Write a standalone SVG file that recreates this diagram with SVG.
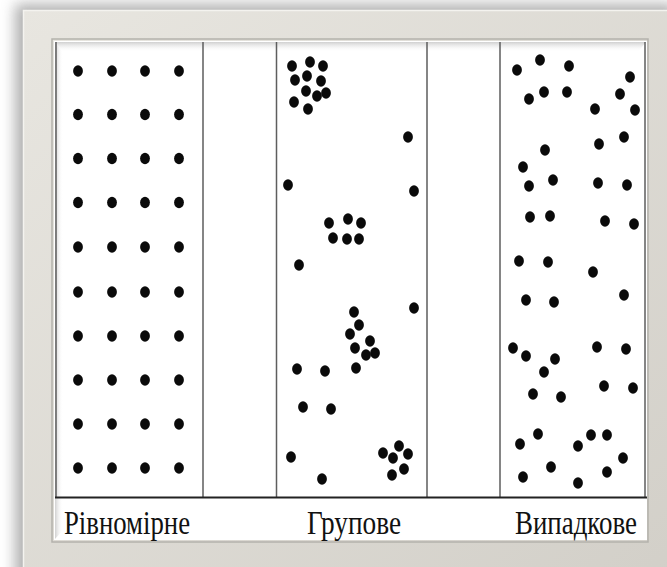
<svg xmlns="http://www.w3.org/2000/svg" xmlns:xlink="http://www.w3.org/1999/xlink" width="667" height="567" viewBox="0 0 667 567">
  <defs>
    <style>
      .col { fill: none; stroke: #5e5e5e; stroke-width: 1.5; }
      .base { stroke: #222; stroke-width: 2; }
      .lbl { font-family: "Liberation Serif", "DejaVu Serif", serif; font-size: 33px; fill: #111; }
    </style>
    <ellipse id="dot" cx="0" cy="0" rx="4.9" ry="5.8" fill="#0a0a0a"/>
    <linearGradient id="frameGrad" x1="0" y1="0" x2="1" y2="1">
      <stop offset="0" stop-color="#e8e6e0"/>
      <stop offset="1" stop-color="#d2cfc8"/>
    </linearGradient>
    <linearGradient id="topBevel" x1="0" y1="0" x2="0" y2="1">
      <stop offset="0" stop-color="#d0d0d0"/>
      <stop offset="1" stop-color="#ffffff" stop-opacity="0"/>
    </linearGradient>
    <linearGradient id="leftBevel" x1="0" y1="0" x2="1" y2="0">
      <stop offset="0" stop-color="#d0d0d0"/>
      <stop offset="1" stop-color="#ffffff" stop-opacity="0"/>
    </linearGradient>
    <filter id="shadow" x="-10%" y="-10%" width="130%" height="130%">
      <feGaussianBlur stdDeviation="7"/>
    </filter>
  </defs>

  <rect width="667" height="567" fill="#ffffff"/>

  <g id="frame">
    <rect x="15" y="4" width="660" height="580" fill="#8f8f8f" opacity="0.7" filter="url(#shadow)"/>
    <rect x="23" y="10" width="660" height="580" fill="url(#frameGrad)"/>
    <path d="M23.5 589 V10.5 H667" fill="none" stroke="#f4f3ef" stroke-width="1.5"/>
    <rect x="52" y="39" width="596" height="503" fill="none" stroke="#b4b2ac" stroke-width="1.5"/>
    <rect x="54" y="41" width="593" height="499" fill="#ffffff"/>
    <polygon points="55,42 646,42 638,52 63,52" fill="url(#topBevel)"/>
    <polygon points="55,42 63,52 63,530 55,539" fill="url(#leftBevel)"/>
  </g>

  <g id="column-uniform">
    <path class="col" d="M56 42 V497 M203 42 V497"/>
    <g id="dots-uniform">
      <use href="#dot" x="78" y="71"/><use href="#dot" x="112" y="71"/><use href="#dot" x="145" y="71"/><use href="#dot" x="179" y="71"/>
      <use href="#dot" x="78" y="114.5"/><use href="#dot" x="112" y="114.5"/><use href="#dot" x="145" y="114.5"/><use href="#dot" x="179" y="114.5"/>
      <use href="#dot" x="78" y="158.5"/><use href="#dot" x="112" y="158.5"/><use href="#dot" x="145" y="158.5"/><use href="#dot" x="179" y="158.5"/>
      <use href="#dot" x="78" y="202.5"/><use href="#dot" x="112" y="202.5"/><use href="#dot" x="145" y="202.5"/><use href="#dot" x="179" y="202.5"/>
      <use href="#dot" x="78" y="247"/><use href="#dot" x="112" y="247"/><use href="#dot" x="145" y="247"/><use href="#dot" x="179" y="247"/>
      <use href="#dot" x="78" y="292"/><use href="#dot" x="112" y="292"/><use href="#dot" x="145" y="292"/><use href="#dot" x="179" y="292"/>
      <use href="#dot" x="78" y="336"/><use href="#dot" x="112" y="336"/><use href="#dot" x="145" y="336"/><use href="#dot" x="179" y="336"/>
      <use href="#dot" x="78" y="380"/><use href="#dot" x="112" y="380"/><use href="#dot" x="145" y="380"/><use href="#dot" x="179" y="380"/>
      <use href="#dot" x="78" y="424"/><use href="#dot" x="112" y="424"/><use href="#dot" x="145" y="424"/><use href="#dot" x="179" y="424"/>
      <use href="#dot" x="78" y="468"/><use href="#dot" x="112" y="468"/><use href="#dot" x="145" y="468"/><use href="#dot" x="179" y="468"/>
    </g>
  </g>

  <g id="column-group">
    <path class="col" d="M276.5 42 V497 M427 42 V497"/>
    <g id="dots-group">
      <use href="#dot" x="292" y="66"/><use href="#dot" x="310" y="62"/><use href="#dot" x="323" y="66"/>
      <use href="#dot" x="295" y="80"/><use href="#dot" x="307" y="76"/><use href="#dot" x="321" y="81"/>
      <use href="#dot" x="306" y="91"/><use href="#dot" x="317" y="96"/><use href="#dot" x="326" y="93"/>
      <use href="#dot" x="294" y="102"/><use href="#dot" x="308" y="109"/>
      <use href="#dot" x="408" y="137"/><use href="#dot" x="288" y="185"/><use href="#dot" x="414" y="191"/>
      <use href="#dot" x="329" y="223"/><use href="#dot" x="348" y="219"/><use href="#dot" x="361" y="223"/>
      <use href="#dot" x="333" y="238"/><use href="#dot" x="347" y="239"/><use href="#dot" x="359" y="239"/>
      <use href="#dot" x="299" y="265"/><use href="#dot" x="414" y="308"/>
      <use href="#dot" x="354" y="312"/><use href="#dot" x="359" y="325"/><use href="#dot" x="350" y="334"/>
      <use href="#dot" x="370" y="341"/><use href="#dot" x="355" y="348"/><use href="#dot" x="366" y="355"/>
      <use href="#dot" x="375" y="353"/><use href="#dot" x="356" y="368"/>
      <use href="#dot" x="297" y="369"/><use href="#dot" x="325" y="371"/>
      <use href="#dot" x="303" y="407"/><use href="#dot" x="331" y="409"/>
      <use href="#dot" x="291" y="457"/><use href="#dot" x="322" y="479"/>
      <use href="#dot" x="383" y="453"/><use href="#dot" x="399" y="446"/><use href="#dot" x="408" y="454"/>
      <use href="#dot" x="393" y="458"/><use href="#dot" x="404" y="469"/><use href="#dot" x="392" y="475"/>
    </g>
  </g>

  <g id="column-random">
    <path class="col" d="M500 42 V497 M645 42 V497"/>
    <g id="dots-random">
      <use href="#dot" x="517" y="70"/><use href="#dot" x="540" y="60"/><use href="#dot" x="569" y="66"/><use href="#dot" x="630" y="77"/>
      <use href="#dot" x="529" y="99"/><use href="#dot" x="544" y="92"/><use href="#dot" x="567" y="92"/><use href="#dot" x="620" y="94"/>
      <use href="#dot" x="595" y="109"/><use href="#dot" x="635" y="110"/>
      <use href="#dot" x="624" y="137"/><use href="#dot" x="599" y="144"/><use href="#dot" x="545" y="150"/>
      <use href="#dot" x="523" y="167"/><use href="#dot" x="553" y="180"/><use href="#dot" x="529" y="186"/>
      <use href="#dot" x="598" y="183"/><use href="#dot" x="627" y="185"/>
      <use href="#dot" x="530" y="217"/><use href="#dot" x="550" y="216"/><use href="#dot" x="605" y="221"/><use href="#dot" x="634" y="224"/>
      <use href="#dot" x="519" y="261"/><use href="#dot" x="548" y="262"/><use href="#dot" x="593" y="272"/>
      <use href="#dot" x="526" y="300"/><use href="#dot" x="554" y="302"/><use href="#dot" x="624" y="295"/>
      <use href="#dot" x="513" y="348"/><use href="#dot" x="597" y="347"/><use href="#dot" x="626" y="349"/>
      <use href="#dot" x="526" y="356"/><use href="#dot" x="555" y="359"/><use href="#dot" x="544" y="372"/>
      <use href="#dot" x="533" y="394"/><use href="#dot" x="561" y="397"/><use href="#dot" x="604" y="386"/><use href="#dot" x="633" y="388"/>
      <use href="#dot" x="538" y="434"/><use href="#dot" x="520" y="444"/><use href="#dot" x="578" y="446"/>
      <use href="#dot" x="591" y="435"/><use href="#dot" x="607" y="435"/><use href="#dot" x="623" y="458"/>
      <use href="#dot" x="551" y="467"/><use href="#dot" x="523" y="477"/><use href="#dot" x="607" y="472"/><use href="#dot" x="578" y="483"/>
    </g>
  </g>

  <g id="baseline">
    <line class="base" x1="55" y1="497.5" x2="647" y2="497.5"/>
  </g>

  <g id="labels">
    <text class="lbl" x="64" y="534" textLength="126" lengthAdjust="spacingAndGlyphs">Рівномірне</text>
    <text class="lbl" x="307" y="534" textLength="94" lengthAdjust="spacingAndGlyphs">Групове</text>
    <text class="lbl" x="515" y="534" textLength="122" lengthAdjust="spacingAndGlyphs">Випадкове</text>
  </g>
</svg>
